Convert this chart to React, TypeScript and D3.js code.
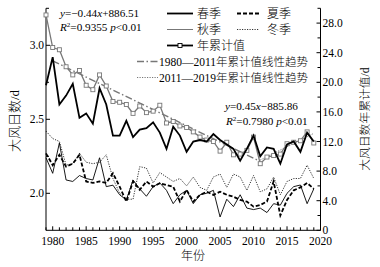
import React from "react";
import * as d3 from "d3";

const years = d3.range(1979, 2020);
const annual = [29.1,24.7,24.4,22.1,21.0,21.6,19.6,19.0,21.0,19.5,17.4,17.3,17.0,15.8,16.8,15.9,16.1,16.9,14.5,14.7,14.1,13.9,13.3,12.6,12.2,12.0,10.7,11.9,10.2,10.3,10.8,12.6,9.0,9.9,10.1,10.3,11.7,11.9,12.1,13.3,11.8];
const spring = [2.73,2.92,2.60,2.66,2.74,2.51,2.54,2.47,2.71,2.60,2.39,2.39,2.49,2.38,2.43,2.44,2.48,2.41,2.30,2.45,2.39,2.28,2.35,2.36,2.35,2.40,2.36,2.33,2.30,2.22,2.30,2.39,2.25,2.31,2.30,2.20,2.33,2.35,2.28,2.41,2.35];
const summer = [2.27,2.19,2.26,2.18,2.20,2.26,2.08,2.07,2.08,2.07,2.135,2.045,1.944,2.08,2.023,2.08,2.045,2.068,2.056,2.045,1.944,2.023,1.944,1.989,2.011,1.989,2.011,1.99,1.977,1.955,1.944,1.91,1.921,1.944,2.08,1.85,1.955,2.02,2.04,2.07,2.03];
const autumn = [2.24,2.135,2.34,2.09,2.08,2.12,2.10,2.09,2.24,2.045,2.055,1.99,1.955,2.09,2.03,1.98,2.045,2.07,2.02,1.93,1.99,2.02,1.93,1.99,2.0,2.02,1.84,1.96,1.91,1.99,1.90,1.89,1.90,1.87,1.93,1.92,2.0,2.045,2.056,1.93,2.03];
const winter = [2.42,2.37,2.35,2.19,2.20,2.27,2.21,2.20,2.21,2.26,2.10,2.00,1.96,1.96,2.18,2.17,2.07,2.14,2.11,2.08,2.10,2.05,2.11,2.04,2.02,2.11,2.13,2.04,2.13,2.11,2.02,2.12,2.01,2.03,2.11,1.99,2.08,2.10,2.10,2.19,2.10];
const trend1: [number, number][] = [[1980, 22.9], [2011, 9.3]];
const trend2: [number, number][] = [[2011, 9.5], [2019, 13.1]];
const xTicks = [1980, 1985, 1990, 1995, 2000, 2005, 2010, 2015, 2020];
const leftTicks = [2.0, 2.5, 3.0];
const leftMinor = [2.25, 2.75, 3.25];
const rightTicks = [0, 4, 8, 12, 16, 20, 24, 28];
const rightMinor = [2, 6, 10, 14, 18, 22, 26, 30];

const SERIF = "'Liberation Serif','Times New Roman','Noto Sans CJK SC',serif";

export default function App() {
  const W = 380, H = 267;
  const x = d3.scaleLinear().domain([1979, 2020]).range([46, 320.5]);
  const yL = d3.scaleLinear().domain([1.75, 3.25]).range([230.3, 8.3]);
  const yR = d3.scaleLinear().domain([0, 30]).range([230.3, 8.3]);
  const lineL = (vals: number[]) =>
    d3.line<number>().x((_, i) => x(years[i])).y((d) => yL(d))(vals) || "";
  const lineR = d3.line<number>().x((_, i) => x(years[i])).y((d) => yR(d));
  const lineT = d3.line<[number, number]>().x((d) => x(d[0])).y((d) => yR(d[1]));
  const x0 = x.range()[0], x1 = x.range()[1];
  const yb = yL.range()[0], yt = yL.range()[1];
  const allYears = d3.range(1979, 2021);

  const legRow = (k: number) => 13.5 + 16 * k;

  return (
    <svg width={W} height={H} style={{ position: "absolute", left: 0, top: 0, background: "#fff" }}
      fontFamily={SERIF}>
      {/* axes */}
      <g stroke="#000" strokeWidth={1} fill="none">
        <line x1={x0} x2={x0} y1={yt} y2={yb} />
        <line x1={x1} x2={x1} y1={yt} y2={yb} />
        <line x1={x0} x2={x1} y1={yb} y2={yb} />
        {allYears.map((yr) => (
          <line key={"xt" + yr} x1={x(yr)} x2={x(yr)} y1={yb} y2={yb - (yr % 5 === 0 ? 4 : 3)} />
        ))}
        {leftTicks.map((v) => <line key={"lt" + v} x1={x0} x2={x0 + 4} y1={yL(v)} y2={yL(v)} />)}
        {leftMinor.map((v) => <line key={"lm" + v} x1={x0} x2={x0 + 3} y1={yL(v)} y2={yL(v)} />)}
        {rightTicks.map((v) => <line key={"rt" + v} x1={x1} x2={x1 - 4} y1={yR(v)} y2={yR(v)} />)}
        {rightMinor.map((v) => <line key={"rm" + v} x1={x1} x2={x1 - 3} y1={yR(v)} y2={yR(v)} />)}
      </g>
      <g fontSize={11.5} fill="#000">
        {xTicks.map((v) => (
          <text key={"xl" + v} x={x(v)} y={245} textAnchor="middle">{v}</text>
        ))}
        {leftTicks.map((v) => (
          <text key={"ll" + v} x={x0 - 2} y={yL(v)} dy="0.35em" textAnchor="end">{v.toFixed(1)}</text>
        ))}
        {rightTicks.map((v) => (
          <text key={"rl" + v} x={x1 + 2} y={yR(v)} dy="0.35em" textAnchor="start">{v === 0 ? "0" : v.toFixed(1)}</text>
        ))}
      </g>
      <g fontWeight={300}>
        <text x={193} y={260} fontSize={12} textAnchor="middle">年份</text>
        <text transform={`translate(19,${121}) rotate(-90)`} fontSize={13} textAnchor="middle">大风日数/d</text>
        <text transform={`translate(369,${119}) rotate(-90)`} fontSize={11.8} textAnchor="middle">大风日数年累计值/d</text>
      </g>

      {/* series */}
      <path d={lineL(winter)} fill="none" stroke="#000" strokeWidth={0.8} strokeDasharray="1.2,1.3" />
      <path d={lineL(autumn)} fill="none" stroke="#000" strokeWidth={0.9} />
      <path d={lineL(summer)} fill="none" stroke="#000" strokeWidth={1.8} strokeDasharray="4,2" />
      <path d={lineT(trend1) || ""} fill="none" stroke="#777" strokeWidth={1.4} strokeDasharray="7,2.5,1.5,2.5" />
      <path d={lineT(trend2) || ""} fill="none" stroke="#777" strokeWidth={1} strokeDasharray="1.2,1.3" />
      <path d={lineR(annual) || ""} fill="none" stroke="#777" strokeWidth={1.3} />
      {annual.map((v, i) => (
        <rect key={"sq" + i} x={x(years[i]) - 2} y={yR(v) - 2} width={4} height={4} fill="#fff" stroke="#777" strokeWidth={0.9} />
      ))}
      <path d={lineL(spring)} fill="none" stroke="#000" strokeWidth={1.8} />

      {/* annotations */}
      <g fontSize={11.2}>
        <text x={60} y={13} dy="0.35em"><tspan fontStyle="italic">y</tspan>=−0.44<tspan fontStyle="italic">x</tspan>+886.51</text>
        <text x={60} y={27} dy="0.35em"><tspan fontStyle="italic">R</tspan><tspan fontSize={7} dy="-4">2</tspan><tspan dy="4">=0.9355 </tspan><tspan fontStyle="italic">p</tspan>&lt;0.01</text>
        <text x={225} y={106.5} dy="0.35em"><tspan fontStyle="italic">y</tspan>=0.45<tspan fontStyle="italic">x</tspan>−885.86</text>
        <text x={226} y={121} dy="0.35em"><tspan fontStyle="italic">R</tspan><tspan fontSize={7} dy="-4">2</tspan><tspan dy="4">=0.7980 </tspan><tspan fontStyle="italic">p</tspan>&lt;0.01</text>
      </g>

      {/* legend */}
      <g fontSize={12} fontWeight={300}>
        <line x1={167} x2={193} y1={legRow(0)} y2={legRow(0)} stroke="#000" strokeWidth={1.8} />
        <text x={197} y={legRow(0)} dy="0.35em">春季</text>
        <line x1={237} x2={259} y1={legRow(0)} y2={legRow(0)} stroke="#000" strokeWidth={1.8} strokeDasharray="4,2" />
        <text x={267} y={legRow(0)} dy="0.35em">夏季</text>
        <line x1={167} x2={193} y1={legRow(1)} y2={legRow(1)} stroke="#777" strokeWidth={1} />
        <text x={197} y={legRow(1)} dy="0.35em">秋季</text>
        <line x1={237} x2={259} y1={legRow(1)} y2={legRow(1)} stroke="#000" strokeWidth={0.8} strokeDasharray="1.2,1.3" />
        <text x={267} y={legRow(1)} dy="0.35em">冬季</text>
        <line x1={167} x2={193} y1={legRow(2)} y2={legRow(2)} stroke="#000" strokeWidth={1.8} />
        <rect x={178} y={legRow(2) - 2} width={4} height={4} fill="#fff" stroke="#000" strokeWidth={0.9} />
        <text x={197} y={legRow(2)} dy="0.35em">年累计值</text>
        <line x1={137} x2={158} y1={legRow(3)} y2={legRow(3)} stroke="#777" strokeWidth={1.4} strokeDasharray="7,2.5,1.5,2.5" />
        <text x={159} y={legRow(3)} dy="0.35em" fontSize={11.5}>1980—2011年累计值线性趋势</text>
        <line x1={137} x2={158} y1={legRow(4)} y2={legRow(4)} stroke="#777" strokeWidth={1} strokeDasharray="1.2,1.3" />
        <text x={159} y={legRow(4)} dy="0.35em" fontSize={11.5}>2011—2019年累计值线性趋势</text>
      </g>
    </svg>
  );
}
